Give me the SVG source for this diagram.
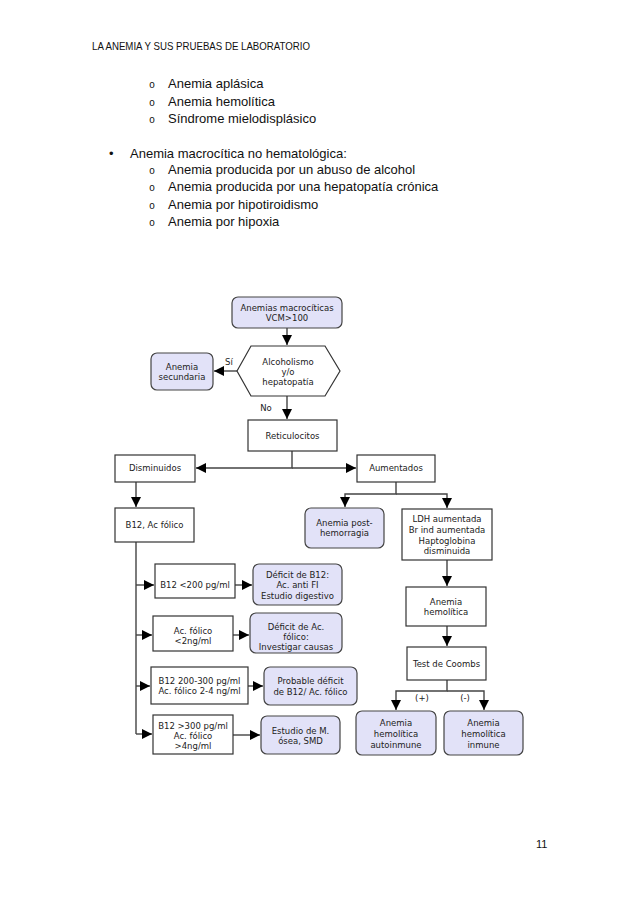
<svg xmlns="http://www.w3.org/2000/svg" width="638" height="903" viewBox="0 0 638 903">
<style>
.doc{font-family:"Liberation Sans",Arial,sans-serif;font-size:13px;fill:#111}
.fc{font-family:"DejaVu Sans",Verdana,sans-serif;font-size:8.5px;fill:#222;text-anchor:middle}
.box{fill:#fff;stroke:#333;stroke-width:1.2}
.lav{fill:#e2e2f8;stroke:#444;stroke-width:1.2}
.con{fill:none;stroke:#444;stroke-width:1.4}
</style>
<defs>
<marker id="ah" viewBox="0 0 10 10" refX="10" refY="5" markerWidth="10" markerHeight="10" markerUnits="userSpaceOnUse" orient="auto">
<path d="M0,0 L10,5 L0,10 z" fill="#000"/>
</marker>
</defs>
<rect width="638" height="903" fill="#fff"/>
<text x="92" y="50" font-family="'Liberation Sans',Arial,sans-serif" font-size="10.5" fill="#111" textLength="218" lengthAdjust="spacingAndGlyphs">LA ANEMIA Y SUS PRUEBAS DE LABORATORIO</text>
<g class="doc">
<text x="149" y="88" font-family="'Liberation Mono',monospace" font-size="10">o</text>
<text x="168" y="88">Anemia aplásica</text>
<text x="149" y="105.5" font-family="'Liberation Mono',monospace" font-size="10">o</text>
<text x="168" y="105.5">Anemia hemolítica</text>
<text x="149" y="123" font-family="'Liberation Mono',monospace" font-size="10">o</text>
<text x="168" y="123">Síndrome mielodisplásico</text>
<text x="109" y="158">•</text>
<text x="130" y="158">Anemia macrocítica no hematológica:</text>
<text x="149" y="174" font-family="'Liberation Mono',monospace" font-size="10">o</text>
<text x="168" y="174">Anemia producida por un abuso de alcohol</text>
<text x="149" y="191" font-family="'Liberation Mono',monospace" font-size="10">o</text>
<text x="168" y="191">Anemia producida por una hepatopatía crónica</text>
<text x="149" y="208.5" font-family="'Liberation Mono',monospace" font-size="10">o</text>
<text x="168" y="208.5">Anemia por hipotiroidismo</text>
<text x="149" y="226" font-family="'Liberation Mono',monospace" font-size="10">o</text>
<text x="168" y="226">Anemia por hipoxia</text>
</g>
<text x="536" y="848" font-family="'Liberation Sans',Arial,sans-serif" font-size="11" fill="#111">11</text>

<g id="connectors">
<path class="con" d="M287,328 V345" marker-end="url(#ah)"/>
<path class="con" d="M237,371 H214" marker-end="url(#ah)"/>
<path class="con" d="M287,396 V419" marker-end="url(#ah)"/>
<path class="con" d="M292,451 V468 H196" marker-end="url(#ah)"/>
<path class="con" d="M292,468 H356" marker-end="url(#ah)"/>
<path class="con" d="M136,482 V507" marker-end="url(#ah)"/>
<path class="con" d="M396,482 V494 H345 V507" marker-end="url(#ah)"/>
<path class="con" d="M396,494 H447 V508" marker-end="url(#ah)"/>
<path class="con" d="M447,560 V586" marker-end="url(#ah)"/>
<path class="con" d="M447,626 V646" marker-end="url(#ah)"/>
<path class="con" d="M447,680 V691 H396 V710" marker-end="url(#ah)"/>
<path class="con" d="M447,691 H484 V710" marker-end="url(#ah)"/>
<path class="con" d="M136,542 V734"/>
<path class="con" d="M136,585 H154" marker-end="url(#ah)"/>
<path class="con" d="M136,635 H152" marker-end="url(#ah)"/>
<path class="con" d="M136,686 H150" marker-end="url(#ah)"/>
<path class="con" d="M136,734 H152" marker-end="url(#ah)"/>
<path class="con" d="M235,585 H252" marker-end="url(#ah)"/>
<path class="con" d="M233,635 H249" marker-end="url(#ah)"/>
<path class="con" d="M248,686 H263" marker-end="url(#ah)"/>
<path class="con" d="M233,735 H260" marker-end="url(#ah)"/>
<text class="fc" x="229" y="365">Sí</text>
<text class="fc" x="266" y="411">No</text>
<text class="fc" x="422" y="701">(+)</text>
<text class="fc" x="465" y="701">(-)</text>
</g>

<g id="n_macro"><rect class="lav" x="232" y="297" width="110" height="31" rx="6"/>
<text class="fc" x="287" y="311">Anemias macrocíticas</text><text class="fc" x="287" y="321">VCM&gt;100</text></g>
<g id="n_alcohol"><polygon class="box" points="237,371 251,346 325,346 340,371 325,396 251,396"/>
<text class="fc" x="288" y="365">Alcoholismo</text><text class="fc" x="288" y="375">y/o</text><text class="fc" x="288" y="385">hepatopatía</text></g>
<g id="n_secundaria"><rect class="lav" x="151" y="353" width="62" height="37" rx="6"/>
<text class="fc" x="182" y="370">Anemia</text><text class="fc" x="182" y="380">secundaria</text></g>
<g id="n_reticulocitos"><rect class="box" x="248" y="420" width="89" height="31"/>
<text class="fc" x="292.5" y="439">Reticulocitos</text></g>
<g id="n_disminuidos"><rect class="box" x="115" y="455" width="80" height="27"/>
<text class="fc" x="155" y="471">Disminuidos</text></g>
<g id="n_aumentados"><rect class="box" x="357" y="455" width="78" height="27"/>
<text class="fc" x="396" y="471">Aumentados</text></g>
<g id="n_b12"><rect class="box" x="115" y="508" width="79" height="34"/>
<text class="fc" x="154.5" y="528">B12, Ac fólico</text></g>
<g id="n_post"><rect class="lav" x="305" y="508" width="79" height="40" rx="6"/>
<text class="fc" x="344.5" y="526">Anemia post-</text><text class="fc" x="344.5" y="536">hemorragia</text></g>
<g id="n_ldh"><rect class="box" x="402" y="509" width="90" height="51"/>
<text class="fc" x="447" y="522">LDH aumentada</text><text class="fc" x="447" y="533">Br ind aumentada</text><text class="fc" x="447" y="544">Haptoglobina</text><text class="fc" x="447" y="554">disminuida</text></g>
<g id="n_hemolitica"><rect class="box" x="406" y="587" width="80" height="39"/>
<text class="fc" x="446" y="605">Anemia</text><text class="fc" x="446" y="615">hemolítica</text></g>
<g id="n_coombs"><rect class="box" x="407" y="647" width="79" height="33"/>
<text class="fc" x="446.5" y="667">Test de Coombs</text></g>
<g id="n_autoinmune"><rect class="lav" x="356" y="711" width="80" height="44" rx="6"/>
<text class="fc" x="396" y="726">Anemia</text><text class="fc" x="396" y="737">hemolítica</text><text class="fc" x="396" y="748">autoinmune</text></g>
<g id="n_inmune"><rect class="lav" x="444" y="711" width="79" height="44" rx="6"/>
<text class="fc" x="483.5" y="726">Anemia</text><text class="fc" x="483.5" y="737">hemolítica</text><text class="fc" x="483.5" y="748">inmune</text></g>
<g id="n_b12_200"><rect class="box" x="155" y="564" width="80" height="34"/>
<text class="fc" x="195" y="588">B12 &lt;200 pg/ml</text></g>
<g id="n_def_b12"><rect class="lav" x="253" y="564" width="89" height="41" rx="6"/>
<text class="fc" x="297.5" y="578">Déficit de B12:</text><text class="fc" x="297.5" y="588">Ac. anti FI</text><text class="fc" x="297.5" y="599">Estudio digestivo</text></g>
<g id="n_folico2"><rect class="box" x="153" y="616" width="80" height="35"/>
<text class="fc" x="193" y="634">Ac. fólico</text><text class="fc" x="193" y="644">&lt;2ng/ml</text></g>
<g id="n_def_ac"><rect class="lav" x="250" y="613" width="92" height="40" rx="6"/>
<text class="fc" x="296" y="630">Déficit de Ac.</text><text class="fc" x="296" y="640">fólico:</text><text class="fc" x="296" y="650">Investigar causas</text></g>
<g id="n_b12_mid"><rect class="box" x="151" y="667" width="97" height="37"/>
<text class="fc" x="199.5" y="684">B12 200-300 pg/ml</text><text class="fc" x="199.5" y="694">Ac. fólico 2-4 ng/ml</text></g>
<g id="n_probable"><rect class="lav" x="264" y="667" width="93" height="38" rx="6"/>
<text class="fc" x="310.5" y="684">Probable déficit</text><text class="fc" x="310.5" y="695">de B12/ Ac. fólico</text></g>
<g id="n_b12_300"><rect class="box" x="153" y="715" width="80" height="39"/>
<text class="fc" x="193" y="729">B12 &gt;300 pg/ml</text><text class="fc" x="193" y="739">Ac. fólico</text><text class="fc" x="193" y="749">&gt;4ng/ml</text></g>
<g id="n_estudio"><rect class="lav" x="261" y="716" width="79" height="38" rx="6"/>
<text class="fc" x="300.5" y="734">Estudio de M.</text><text class="fc" x="300.5" y="744">ósea, SMD</text></g>
</svg>
